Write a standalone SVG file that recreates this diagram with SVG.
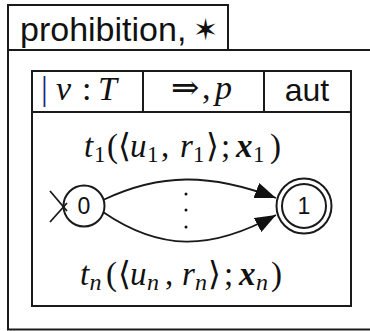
<svg xmlns="http://www.w3.org/2000/svg" width="370" height="331" viewBox="0 0 370 331">
<style>
.ln{fill:none;stroke:#1a1a1a;stroke-width:2}
.sans{font-family:"Liberation Sans",Arial,sans-serif;fill:#111}
.math{font-family:"Liberation Serif","DejaVu Serif",serif;font-style:italic;fill:#111}
.up{font-style:normal}
.sub{font-style:normal;font-size:23px}
.subi{font-size:24px}
.bold{font-weight:bold}
.edge{fill:none;stroke:#1a1a1a;stroke-width:1.8}
</style>
<defs>
<marker id="ah" viewBox="0 0 21 16" refX="21" refY="8" markerWidth="21" markerHeight="16" markerUnits="userSpaceOnUse" orient="auto">
<path d="M0,0 L21,8 L0,16 Z" fill="#111"/>
</marker>
</defs>
<g id="frame">
<rect class="ln" x="8" y="50" width="380" height="279.5"/>
<rect class="ln" x="8" y="5" width="220" height="45"/>
<text class="sans" x="20" y="41" font-size="34">prohibition,<tspan x="193" y="40" font-family="DejaVu Sans,sans-serif" font-size="30" font-weight="bold">✶</tspan></text>
</g>
<g id="table">
<rect class="ln" x="32" y="71" width="319" height="235"/>
<line class="ln" x1="32" y1="112" x2="351" y2="112"/>
<line class="ln" x1="143" y1="71" x2="143" y2="112"/>
<line class="ln" x1="264" y1="71" x2="264" y2="112"/>
<text class="math" y="100" font-size="34"><tspan x="41" class="up" fill="#1a237e">|</tspan><tspan x="56">v</tspan><tspan x="82" class="up">:</tspan><tspan x="98">T</tspan></text>
<text class="math" y="99" font-size="34"><tspan x="171" class="up">⇒</tspan><tspan x="202" class="up">,</tspan><tspan x="215">p</tspan></text>
<text class="sans" x="307" y="101" font-size="32" text-anchor="middle">aut</text>
</g>
<g id="label-t1">
<text class="math" y="157" font-size="33"><tspan x="84">t</tspan><tspan x="94" dy="5" class="sub">1</tspan><tspan x="107" dy="-5" class="up">(</tspan><tspan x="118" class="up">⟨</tspan><tspan x="130">u</tspan><tspan x="147" dy="5" class="sub">1</tspan><tspan x="161" dy="-5" class="up">,</tspan><tspan x="180">r</tspan><tspan x="193" dy="5" class="sub">1</tspan><tspan x="206" dy="-5" class="up">⟩</tspan><tspan x="221" class="up">;</tspan><tspan x="236" class="bold">x</tspan><tspan x="253" dy="5" class="sub">1</tspan><tspan x="270" dy="-5" class="up">)</tspan></text>
</g>
<g id="label-tn">
<text class="math" y="285" font-size="33"><tspan x="80">t</tspan><tspan x="89.5" dy="5" class="subi">n</tspan><tspan x="106" dy="-5" class="up">(</tspan><tspan x="118" class="up">⟨</tspan><tspan x="130">u</tspan><tspan x="147" dy="5" class="subi">n</tspan><tspan x="165" dy="-5" class="up">,</tspan><tspan x="182">r</tspan><tspan x="195" dy="5" class="subi">n</tspan><tspan x="208" dy="-5" class="up">⟩</tspan><tspan x="224" class="up">;</tspan><tspan x="239" class="bold">x</tspan><tspan x="256" dy="5" class="subi">n</tspan><tspan x="271" dy="-5" class="up">)</tspan></text>
</g>
<g id="state-0">
<circle class="ln" cx="84" cy="206" r="20.5" fill="#fff"/>
<text class="sans" x="84" y="214" font-size="23" text-anchor="middle">0</text>
</g>
<g id="state-1">
<circle class="ln" cx="304" cy="206" r="27.5"/>
<circle class="ln" cx="304" cy="206" r="22"/>
<text class="sans" x="304" y="214" font-size="23" text-anchor="middle">1</text>
</g>
<g id="connectors">
<line class="edge" x1="50" y1="191" x2="67" y2="211"/>
<line class="edge" x1="50" y1="222" x2="67" y2="203"/>
<path class="edge" d="M103,200 C160,173 210,173 276,198" marker-end="url(#ah)"/>
<path class="edge" d="M103,212 C160,251 210,251 276,215" marker-end="url(#ah)"/>
<g fill="#111"><circle cx="186" cy="194" r="1.5"/><circle cx="186" cy="210" r="1.5"/><circle cx="186" cy="227" r="1.5"/></g>
</g>
</svg>
